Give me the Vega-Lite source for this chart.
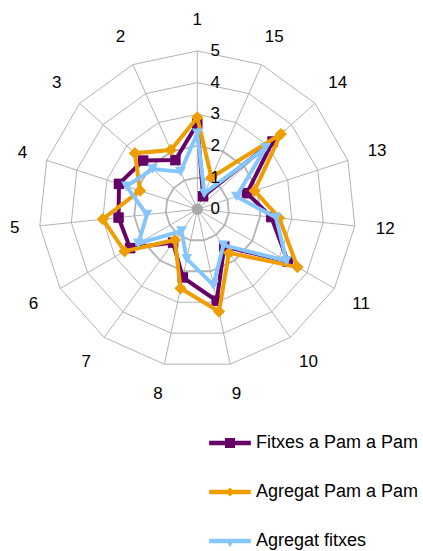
{
  "$schema": "https://vega.github.io/schema/vega-lite/v6.json",
  "width": 423,
  "height": 551,
  "padding": 0,
  "autosize": {"type": "none"},
  "background": "white",
  "config": {"view": {"stroke": null}, "font": "Liberation Sans"},
  "datasets": {
    "scores": [
      {"axis": 1, "series": "Fitxes a Pam a Pam", "value": 2.7},
      {"axis": 2, "series": "Fitxes a Pam a Pam", "value": 1.7},
      {"axis": 3, "series": "Fitxes a Pam a Pam", "value": 2.3},
      {"axis": 4, "series": "Fitxes a Pam a Pam", "value": 2.6},
      {"axis": 5, "series": "Fitxes a Pam a Pam", "value": 2.5},
      {"axis": 6, "series": "Fitxes a Pam a Pam", "value": 2.45},
      {"axis": 7, "series": "Fitxes a Pam a Pam", "value": 1.3},
      {"axis": 8, "series": "Fitxes a Pam a Pam", "value": 2.2},
      {"axis": 9, "series": "Fitxes a Pam a Pam", "value": 2.95},
      {"axis": 10, "series": "Fitxes a Pam a Pam", "value": 1.45},
      {"axis": 11, "series": "Fitxes a Pam a Pam", "value": 3.3},
      {"axis": 12, "series": "Fitxes a Pam a Pam", "value": 2.35},
      {"axis": 13, "series": "Fitxes a Pam a Pam", "value": 1.65},
      {"axis": 14, "series": "Fitxes a Pam a Pam", "value": 3.2},
      {"axis": 15, "series": "Fitxes a Pam a Pam", "value": 0.45},
      {"axis": 1, "series": "Agregat Pam a Pam", "value": 2.9},
      {"axis": 2, "series": "Agregat Pam a Pam", "value": 2.05},
      {"axis": 3, "series": "Agregat Pam a Pam", "value": 2.65},
      {"axis": 4, "series": "Agregat Pam a Pam", "value": 1.9},
      {"axis": 5, "series": "Agregat Pam a Pam", "value": 3.0},
      {"axis": 6, "series": "Agregat Pam a Pam", "value": 2.65},
      {"axis": 7, "series": "Agregat Pam a Pam", "value": 1.2},
      {"axis": 8, "series": "Agregat Pam a Pam", "value": 2.55},
      {"axis": 9, "series": "Agregat Pam a Pam", "value": 3.3},
      {"axis": 10, "series": "Agregat Pam a Pam", "value": 1.7},
      {"axis": 11, "series": "Agregat Pam a Pam", "value": 3.65},
      {"axis": 12, "series": "Agregat Pam a Pam", "value": 2.6},
      {"axis": 13, "series": "Agregat Pam a Pam", "value": 1.9},
      {"axis": 14, "series": "Agregat Pam a Pam", "value": 3.55},
      {"axis": 15, "series": "Agregat Pam a Pam", "value": 1.1},
      {"axis": 1, "series": "Agregat fitxes", "value": 2.4},
      {"axis": 2, "series": "Agregat fitxes", "value": 1.3},
      {"axis": 3, "series": "Agregat fitxes", "value": 1.9},
      {"axis": 4, "series": "Agregat fitxes", "value": 2.35},
      {"axis": 5, "series": "Agregat fitxes", "value": 1.6},
      {"axis": 6, "series": "Agregat fitxes", "value": 2.15},
      {"axis": 7, "series": "Agregat fitxes", "value": 0.85},
      {"axis": 8, "series": "Agregat fitxes", "value": 1.6},
      {"axis": 9, "series": "Agregat fitxes", "value": 2.45},
      {"axis": 10, "series": "Agregat fitxes", "value": 1.4},
      {"axis": 11, "series": "Agregat fitxes", "value": 3.25},
      {"axis": 12, "series": "Agregat fitxes", "value": 2.5},
      {"axis": 13, "series": "Agregat fitxes", "value": 1.3},
      {"axis": 14, "series": "Agregat fitxes", "value": 2.9},
      {"axis": 15, "series": "Agregat fitxes", "value": 0.55}
    ],
    "spokes": [
      {"axis": 1}, {"axis": 2}, {"axis": 3}, {"axis": 4}, {"axis": 5},
      {"axis": 6}, {"axis": 7}, {"axis": 8}, {"axis": 9}, {"axis": 10},
      {"axis": 11}, {"axis": 12}, {"axis": 13}, {"axis": 14}, {"axis": 15}
    ],
    "rings": [
      {"level": 1, "axes": [1,2,3,4,5,6,7,8,9,10,11,12,13,14,15]},
      {"level": 2, "axes": [1,2,3,4,5,6,7,8,9,10,11,12,13,14,15]},
      {"level": 3, "axes": [1,2,3,4,5,6,7,8,9,10,11,12,13,14,15]},
      {"level": 4, "axes": [1,2,3,4,5,6,7,8,9,10,11,12,13,14,15]},
      {"level": 5, "axes": [1,2,3,4,5,6,7,8,9,10,11,12,13,14,15]}
    ],
    "levels": [
      {"level": 0}, {"level": 1}, {"level": 2}, {"level": 3}, {"level": 4}, {"level": 5}
    ]
  },
  "layer": [
    {
      "data": {"name": "rings"},
      "transform": [
        {"flatten": ["axes"], "as": ["axis"]},
        {"filter": "datum.level >= 3"},
        {"calculate": "(datum.axis - 1) * 2 * PI / 15", "as": "a"},
        {"calculate": "-datum.level * sin(datum.a)", "as": "px"},
        {"calculate": "datum.level * cos(datum.a)", "as": "py"}
      ],
      "mark": {"type": "line", "interpolate": "linear-closed", "color": "#b3b3b3", "strokeWidth": 1},
      "encoding": {
        "x": {"field": "px", "type": "quantitative", "scale": {"domain": [-6.23, 7.127], "nice": false, "zero": false}, "axis": null},
        "y": {"field": "py", "type": "quantitative", "scale": {"domain": [-10.79, 6.609], "nice": false, "zero": false}, "axis": null},
        "detail": {"field": "level", "type": "nominal"},
        "order": {"field": "axis", "type": "quantitative"}
      }
    },
    {
      "data": {"name": "rings"},
      "transform": [
        {"flatten": ["axes"], "as": ["axis"]},
        {"filter": "datum.level <= 2"},
        {"calculate": "(datum.axis - 1) * 2 * PI / 15", "as": "a"},
        {"calculate": "-datum.level * sin(datum.a)", "as": "px"},
        {"calculate": "datum.level * cos(datum.a)", "as": "py"}
      ],
      "mark": {"type": "line", "interpolate": "linear-closed", "color": "#b3b3b3", "strokeWidth": 1.8},
      "encoding": {
        "x": {"field": "px", "type": "quantitative", "scale": {"domain": [-6.23, 7.127], "nice": false, "zero": false}, "axis": null},
        "y": {"field": "py", "type": "quantitative", "scale": {"domain": [-10.79, 6.609], "nice": false, "zero": false}, "axis": null},
        "detail": {"field": "level", "type": "nominal"},
        "order": {"field": "axis", "type": "quantitative"}
      }
    },
    {
      "data": {"name": "spokes"},
      "transform": [
        {"calculate": "(datum.axis - 1) * 2 * PI / 15", "as": "a"},
        {"calculate": "-5 * sin(datum.a)", "as": "px"},
        {"calculate": "5 * cos(datum.a)", "as": "py"}
      ],
      "mark": {"type": "rule", "color": "#b3b3b3", "strokeWidth": 1},
      "encoding": {
        "x": {"field": "px", "type": "quantitative", "scale": {"domain": [-6.23, 7.127], "nice": false, "zero": false}, "axis": null},
        "y": {"field": "py", "type": "quantitative", "scale": {"domain": [-10.79, 6.609], "nice": false, "zero": false}, "axis": null},
        "x2": {"datum": 0},
        "y2": {"datum": 0}
      }
    },
    {
      "data": {"name": "levels"},
      "transform": [
        {"filter": "datum.level == 0"},
        {"calculate": "datum.level", "as": "px"},
        {"calculate": "datum.level", "as": "py"}
      ],
      "mark": {"type": "point", "shape": "circle", "filled": true, "color": "#aaaaaa", "size": 130, "opacity": 1},
      "encoding": {
        "x": {"field": "px", "type": "quantitative", "scale": {"domain": [-6.23, 7.127], "nice": false, "zero": false}, "axis": null},
        "y": {"field": "py", "type": "quantitative", "scale": {"domain": [-10.79, 6.609], "nice": false, "zero": false}, "axis": null}
      }
    },
    {
      "data": {"name": "scores"},
      "transform": [
        {"filter": "datum.series == 'Fitxes a Pam a Pam'"},
        {"calculate": "(datum.axis - 1) * 2 * PI / 15", "as": "a"},
        {"calculate": "-datum.value * sin(datum.a)", "as": "px"},
        {"calculate": "datum.value * cos(datum.a)", "as": "py"}
      ],
      "mark": {"type": "line", "interpolate": "linear-closed", "color": "#660066", "strokeWidth": 4},
      "encoding": {
        "x": {"field": "px", "type": "quantitative", "scale": {"domain": [-6.23, 7.127], "nice": false, "zero": false}, "axis": null},
        "y": {"field": "py", "type": "quantitative", "scale": {"domain": [-10.79, 6.609], "nice": false, "zero": false}, "axis": null},
        "order": {"field": "axis", "type": "quantitative"}
      }
    },
    {
      "data": {"name": "scores"},
      "transform": [
        {"filter": "datum.series == 'Fitxes a Pam a Pam'"},
        {"calculate": "(datum.axis - 1) * 2 * PI / 15", "as": "a"},
        {"calculate": "-datum.value * sin(datum.a)", "as": "px"},
        {"calculate": "datum.value * cos(datum.a)", "as": "py"}
      ],
      "mark": {"type": "point", "shape": "square", "filled": true, "color": "#660066", "size": 110, "opacity": 1},
      "encoding": {
        "x": {"field": "px", "type": "quantitative", "scale": {"domain": [-6.23, 7.127], "nice": false, "zero": false}, "axis": null},
        "y": {"field": "py", "type": "quantitative", "scale": {"domain": [-10.79, 6.609], "nice": false, "zero": false}, "axis": null}
      }
    },
    {
      "data": {"name": "scores"},
      "transform": [
        {"filter": "datum.series == 'Agregat Pam a Pam'"},
        {"calculate": "(datum.axis - 1) * 2 * PI / 15", "as": "a"},
        {"calculate": "-datum.value * sin(datum.a)", "as": "px"},
        {"calculate": "datum.value * cos(datum.a)", "as": "py"}
      ],
      "mark": {"type": "line", "interpolate": "linear-closed", "color": "#EE9E00", "strokeWidth": 4},
      "encoding": {
        "x": {"field": "px", "type": "quantitative", "scale": {"domain": [-6.23, 7.127], "nice": false, "zero": false}, "axis": null},
        "y": {"field": "py", "type": "quantitative", "scale": {"domain": [-10.79, 6.609], "nice": false, "zero": false}, "axis": null},
        "order": {"field": "axis", "type": "quantitative"}
      }
    },
    {
      "data": {"name": "scores"},
      "transform": [
        {"filter": "datum.series == 'Agregat Pam a Pam'"},
        {"calculate": "(datum.axis - 1) * 2 * PI / 15", "as": "a"},
        {"calculate": "-datum.value * sin(datum.a)", "as": "px"},
        {"calculate": "datum.value * cos(datum.a)", "as": "py"}
      ],
      "mark": {"type": "point", "shape": "diamond", "filled": true, "color": "#EE9E00", "size": 150, "opacity": 1},
      "encoding": {
        "x": {"field": "px", "type": "quantitative", "scale": {"domain": [-6.23, 7.127], "nice": false, "zero": false}, "axis": null},
        "y": {"field": "py", "type": "quantitative", "scale": {"domain": [-10.79, 6.609], "nice": false, "zero": false}, "axis": null}
      }
    },
    {
      "data": {"name": "scores"},
      "transform": [
        {"filter": "datum.series == 'Agregat fitxes'"},
        {"calculate": "(datum.axis - 1) * 2 * PI / 15", "as": "a"},
        {"calculate": "-datum.value * sin(datum.a)", "as": "px"},
        {"calculate": "datum.value * cos(datum.a)", "as": "py"}
      ],
      "mark": {"type": "line", "interpolate": "linear-closed", "color": "#85C6FF", "strokeWidth": 4},
      "encoding": {
        "x": {"field": "px", "type": "quantitative", "scale": {"domain": [-6.23, 7.127], "nice": false, "zero": false}, "axis": null},
        "y": {"field": "py", "type": "quantitative", "scale": {"domain": [-10.79, 6.609], "nice": false, "zero": false}, "axis": null},
        "order": {"field": "axis", "type": "quantitative"}
      }
    },
    {
      "data": {"name": "scores"},
      "transform": [
        {"filter": "datum.series == 'Agregat fitxes'"},
        {"calculate": "(datum.axis - 1) * 2 * PI / 15", "as": "a"},
        {"calculate": "-datum.value * sin(datum.a)", "as": "px"},
        {"calculate": "datum.value * cos(datum.a)", "as": "py"}
      ],
      "mark": {"type": "point", "shape": "triangle-down", "filled": true, "color": "#85C6FF", "size": 120, "opacity": 1},
      "encoding": {
        "x": {"field": "px", "type": "quantitative", "scale": {"domain": [-6.23, 7.127], "nice": false, "zero": false}, "axis": null},
        "y": {"field": "py", "type": "quantitative", "scale": {"domain": [-10.79, 6.609], "nice": false, "zero": false}, "axis": null}
      }
    },
    {
      "data": {"name": "spokes"},
      "transform": [
        {"calculate": "(datum.axis - 1) * 2 * PI / 15", "as": "a"},
        {"calculate": "(datum.axis == 4 || datum.axis == 5) ? 5.8 : 5.97", "as": "lr"},
        {"calculate": "-datum.lr * sin(datum.a)", "as": "px"},
        {"calculate": "datum.lr * cos(datum.a)", "as": "py"}
      ],
      "mark": {"type": "text", "fontSize": 17, "color": "black", "align": "center", "baseline": "middle", "font": "Liberation Sans"},
      "encoding": {
        "x": {"field": "px", "type": "quantitative", "scale": {"domain": [-6.23, 7.127], "nice": false, "zero": false}, "axis": null},
        "y": {"field": "py", "type": "quantitative", "scale": {"domain": [-10.79, 6.609], "nice": false, "zero": false}, "axis": null},
        "text": {"field": "axis", "type": "nominal"}
      }
    },
    {
      "data": {"name": "levels"},
      "transform": [
        {"calculate": "0", "as": "px"},
        {"calculate": "datum.level", "as": "py"}
      ],
      "mark": {"type": "text", "fontSize": 17, "color": "black", "align": "center", "baseline": "middle", "dx": 18, "font": "Liberation Sans"},
      "encoding": {
        "x": {"field": "px", "type": "quantitative", "scale": {"domain": [-6.23, 7.127], "nice": false, "zero": false}, "axis": null},
        "y": {"field": "py", "type": "quantitative", "scale": {"domain": [-10.79, 6.609], "nice": false, "zero": false}, "axis": null},
        "text": {"field": "level", "type": "nominal"}
      }
    },
    {
      "data": {"name": "scores"},
      "transform": [
        {"filter": "datum.axis == 1"},
        {"calculate": "0", "as": "px"},
        {"calculate": "0", "as": "py"}
      ],
      "mark": {"type": "point", "filled": true, "opacity": 0},
      "encoding": {
        "x": {"field": "px", "type": "quantitative", "scale": {"domain": [-6.23, 7.127], "nice": false, "zero": false}, "axis": null},
        "y": {"field": "py", "type": "quantitative", "scale": {"domain": [-10.79, 6.609], "nice": false, "zero": false}, "axis": null},
        "color": {
          "field": "series", "type": "nominal",
          "scale": {"domain": ["Fitxes a Pam a Pam", "Agregat Pam a Pam", "Agregat fitxes"], "range": ["#660066", "#EE9E00", "#85C6FF"]},
          "legend": {"orient": "none", "legendX": 221, "legendY": 434, "title": null, "symbolSize": 100, "symbolOpacity": 1, "symbolStrokeWidth": 0, "labelFontSize": 18, "labelFont": "Liberation Sans", "labelColor": "black", "labelLimit": 300, "labelOffset": 17, "rowPadding": 31, "padding": 0}
        },
        "shape": {
          "field": "series", "type": "nominal",
          "scale": {"domain": ["Fitxes a Pam a Pam", "Agregat Pam a Pam", "Agregat fitxes"], "range": [
            "M-4.17,-0.45H4.17V0.45H-4.17Z M-1,-1H1V1H-1Z",
            "M-4.17,-0.45H4.17V0.45H-4.17Z M0,-0.9L0.9,0L0,0.9L-0.9,0Z",
            "M-4.17,-0.45H4.17V0.45H-4.17Z M-0.9,-0.45H0.9L0,1.3Z"
          ]},
          "legend": {"orient": "none", "legendX": 221, "legendY": 434, "title": null, "symbolSize": 100, "symbolOpacity": 1, "symbolStrokeWidth": 0, "labelFontSize": 18, "labelFont": "Liberation Sans", "labelColor": "black", "labelLimit": 300, "labelOffset": 17, "rowPadding": 31, "padding": 0}
        }
      }
    }
  ]
}
